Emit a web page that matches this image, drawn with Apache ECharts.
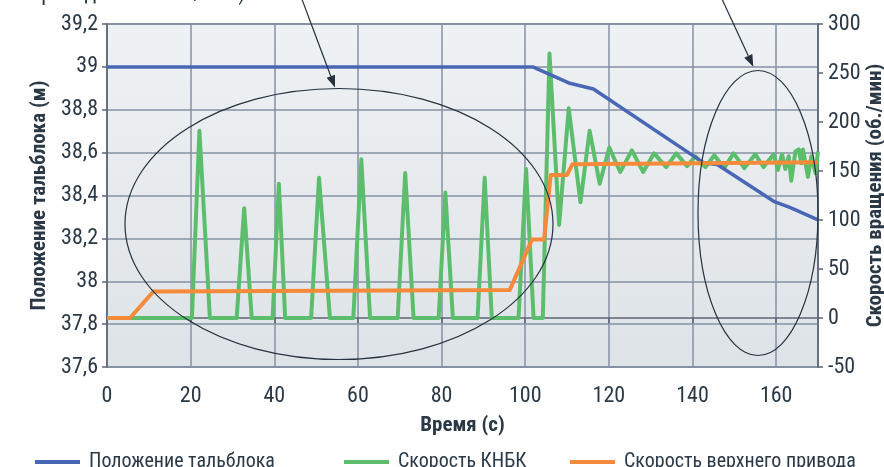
<!DOCTYPE html>
<html>
<head>
<meta charset="utf-8">
<script src="https://cdn.jsdelivr.net/npm/echarts@6/dist/echarts.min.js"></script>
<style>
  html, body { margin: 0; padding: 0; background: #ffffff; }
  #chart { width: 884px; height: 467px; }
</style>
</head>
<body>
<div id="chart"></div>
<script>
// Hook block position, m (left axis)
const positionTime  = [0, 101.8, 110.4, 116.3, 142.7, 145.9, 159.4, 163.4, 170];
const positionValue = [39.0, 39.0, 38.925, 38.897, 38.552, 38.545, 38.373, 38.343, 38.286];

// BHA rotation speed, rpm (right axis)
const bhaTime = [0, 20.3, 22.1, 24.6, 31, 32.8, 34.6, 39.6, 41.1, 42.6, 48.8, 50.7, 53.3,
  58.9, 60.8, 62.9, 69.5, 71.3, 73.3, 79.3, 80.9, 82.7, 88.6, 90.3, 92, 98.4, 100.2, 102,
  104.2, 105.8, 108.1, 110.4, 113.2, 115.4, 117.8, 120.1, 122.7, 125.5, 128.2, 130.8, 133.7,
  136.1, 138.7, 140.7, 143.1, 145.2, 147.6, 149.8, 152.4, 155, 157, 159.4, 160.4, 161.4,
  162.2, 163, 163.6, 164.6, 165.4, 166, 166.4, 167.6, 168.4, 169.4, 170];
const bhaSpeed = [0, 0, 191, 0, 0, 112, 0, 0, 137, 0, 0, 143, 0,
  0, 162, 0, 0, 148, 0, 0, 128, 0, 0, 143, 0, 0, 152, 0,
  0, 270, 95, 214, 118, 191, 137, 174, 149, 171, 149, 168, 154,
  168, 155, 165, 154, 166, 153, 168, 153, 167, 154, 167, 151, 167,
  152, 165, 140, 170, 172, 158, 172, 144, 165, 148, 170];

// Top drive rotation speed, rpm (right axis)
const driveTime  = [0, 5.5, 11.1, 96.3, 101.6, 104.5, 106.1, 110, 111.3, 170];
const driveSpeed = [0, 0, 27, 28.5, 80, 80, 146, 146, 157, 159];

// Axis tick settings
const timeTicks = { min: 0, max: 170, interval: 20 };
const positionTicks = { min: 37.6, max: 39.2, interval: 0.2 };
const speedTicks = { min: -50, max: 300, interval: 50 };

const seriesNames = ['Положение тальблока', 'Скорость КНБК', 'Скорость верхнего привода'];
const noteText = 'привода 30-35 об./мин)';

const pairs = (xs, ys) => xs.map((x, i) => [x, ys[i]]);

const FONT = "'Liberation Sans Narrow', 'Roboto Condensed', 'DejaVu Sans Condensed', 'Roboto', sans-serif";
const TEXT = '#2b3947';
const GRID_LINE = '#8690a4';

// arrow with a filled head, from (x1,y1) to tip (x2,y2)
function arrow(x1, y1, x2, y2) {
  const dx = x2 - x1, dy = y2 - y1, len = Math.hypot(dx, dy);
  const ux = dx / len, uy = dy / len, px = -uy, py = ux;
  const bx = x2 - 12 * ux, by = y2 - 12 * uy;
  return [
    { type: 'line', z: 50, shape: { x1: x1, y1: y1, x2: bx, y2: by },
      style: { stroke: '#26313d', lineWidth: 1.2 } },
    { type: 'polygon', z: 50,
      shape: { points: [[x2, y2], [bx + 4.5 * px, by + 4.5 * py], [bx - 4.5 * px, by - 4.5 * py]] },
      style: { fill: '#26313d' } }
  ];
}

const chart = echarts.init(document.getElementById('chart'), null, { renderer: 'canvas' });

const legendBase = {
  top: 447, icon: 'rect', itemWidth: 45, itemHeight: 4,
  textStyle: { fontFamily: FONT, fontSize: 20, color: TEXT, padding: [0, 0, 0, 4] }
};

chart.setOption({
  animation: false,
  textStyle: { fontFamily: FONT },
  grid: {
    left: 107, right: 66, top: 24, bottom: 100,
    outerBoundsMode: 'none', containLabel: false,
    show: true, borderColor: '#6a7385', borderWidth: 1.5,
    backgroundColor: {
      type: 'linear', x: 0, y: 0, x2: 0, y2: 1,
      colorStops: [{ offset: 0, color: '#eff2f4' }, { offset: 1, color: '#dee3e7' }]
    }
  },
  legend: [
    Object.assign({}, legendBase, { left: 30, data: [seriesNames[0]] }),
    Object.assign({}, legendBase, { left: 339, data: [seriesNames[1]] }),
    Object.assign({}, legendBase, { left: 565, data: [seriesNames[2]] })
  ],
  xAxis: {
    type: 'value', min: timeTicks.min, max: timeTicks.max, interval: timeTicks.interval,
    name: 'Время (с)', nameLocation: 'middle', nameGap: 48,
    nameTextStyle: { fontFamily: FONT, fontSize: 21, fontWeight: 'bold', color: TEXT },
    axisLine: { show: true, lineStyle: { color: '#5d6574', width: 1.5 } },
    axisTick: { show: true, length: 5, lineStyle: { color: '#5d6574', width: 1.5 } },
    axisLabel: { fontFamily: FONT, fontSize: 22, color: TEXT, margin: 18, showMaxLabel: false },
    splitLine: { show: true, lineStyle: { color: GRID_LINE, width: 1.5 } }
  },
  yAxis: [
    {
      type: 'value', position: 'left',
      min: positionTicks.min, max: positionTicks.max, interval: positionTicks.interval,
      name: 'Положение тальблока (м)', nameLocation: 'middle', nameGap: 57, nameRotate: 90,
      nameTextStyle: { fontFamily: FONT, fontSize: 21, fontWeight: 'bold', color: TEXT },
      axisLine: { show: true, lineStyle: { color: '#5d6574', width: 1.5 } },
      axisTick: { show: true, length: 5, lineStyle: { color: '#5d6574', width: 1.5 } },
      axisLabel: {
        fontFamily: FONT, fontSize: 22, color: TEXT, margin: 9,
        formatter: v => String(Math.round(v * 10) / 10).replace('.', ',')
      },
      splitLine: { show: true, lineStyle: { color: GRID_LINE, width: 1.5 } }
    },
    {
      type: 'value', position: 'right',
      min: speedTicks.min, max: speedTicks.max, interval: speedTicks.interval,
      name: 'Скорость вращения (об./мин)', nameLocation: 'middle', nameGap: 47, nameRotate: 90,
      nameMoveOverlap: false,
      nameTextStyle: { fontFamily: FONT, fontSize: 21, fontWeight: 'bold', color: TEXT },
      axisLine: { show: true, lineStyle: { color: '#5d6574', width: 1.5 } },
      axisTick: { show: true, length: 5, lineStyle: { color: '#5d6574', width: 1.5 } },
      axisLabel: { fontFamily: FONT, fontSize: 22, color: TEXT, margin: 10 },
      splitLine: { show: false }
    }
  ],
  series: [
    {
      name: seriesNames[0], type: 'line', yAxisIndex: 0, showSymbol: false, symbol: 'none',
      data: pairs(positionTime, positionValue),
      itemStyle: { color: '#4a67b6' },
      lineStyle: { color: '#4a67b6', width: 3.5, join: 'round' }, z: 3
    },
    {
      name: seriesNames[1], type: 'line', yAxisIndex: 1, showSymbol: false, symbol: 'none',
      data: pairs(bhaTime, bhaSpeed),
      itemStyle: { color: '#5cbe6d' },
      lineStyle: { color: '#5cbe6d', width: 4, join: 'round' }, z: 2
    },
    {
      name: seriesNames[2], type: 'line', yAxisIndex: 1, showSymbol: false, symbol: 'none',
      data: pairs(driveTime, driveSpeed),
      itemStyle: { color: '#f58a3a' },
      lineStyle: { color: '#f58a3a', width: 4, join: 'round' }, z: 4
    }
  ],
  graphic: [
    { type: 'text', left: 30, top: -17, z: 50,
      style: { text: noteText, fontFamily: FONT, fontSize: 22, fill: TEXT } },
    { type: 'ellipse', z: 50, shape: { cx: 339, cy: 224, rx: 214, ry: 135.5 },
      style: { fill: 'none', stroke: '#26313d', lineWidth: 1.2 } },
    { type: 'ellipse', z: 50, shape: { cx: 758, cy: 213, rx: 60, ry: 142.5 },
      style: { fill: 'none', stroke: '#26313d', lineWidth: 1.2 } }
  ].concat(arrow(301.5, -2, 335, 87.5), arrow(721.5, -2, 753.3, 66.7))
});
</script>
</body>
</html>
